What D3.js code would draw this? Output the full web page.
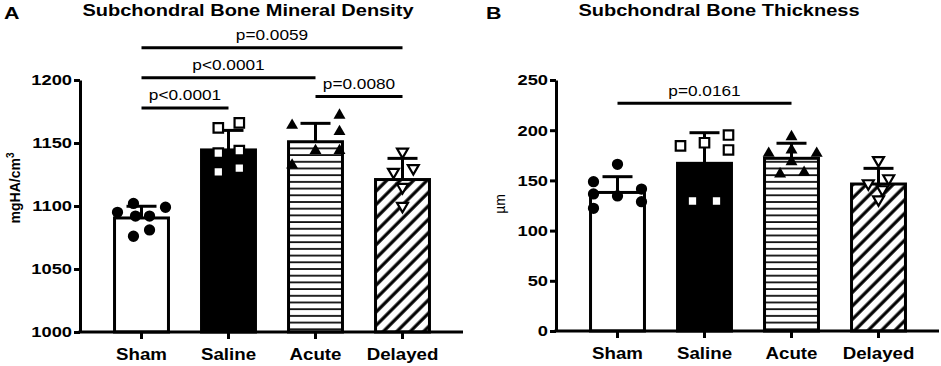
<!DOCTYPE html>
<html lang="en">

<body style="margin:0">
    <script type='text/javascript' src='https://d3js.org/d3.v7.min.js'></script>
    <script>

        // Groups
        const groups = ["Sham", "Saline", "Acute", "Delayed"];

        // Panel A - subchondral bone mineral density (mgHA/cm3)
        const bmdMean = [1090.5, 1144.5, 1151, 1121];
        const bmdSD = [9.3, 15.5, 14.6, 16.8];
        const bmdPoints = [
            [1095, 1102, 1092, 1092, 1099, 1076, 1081],
            [1162, 1166, 1142, 1144, 1127, 1130],
            [1164, 1172, 1159, 1144, 1144, 1132.5],
            [1143, 1127, 1130, 1115, 1100]
        ];
        const bmdTicks = [1000, 1050, 1100, 1150, 1200];
        const bmdCmpFrom = [0, 0, 2, 0];
        const bmdCmpTo = [1, 2, 3, 3];
        const bmdCmpLabel = ["p<0.0001", "p<0.0001", "p=0.0080", "p=0.0059"];

        // Panel B - subchondral bone thickness (um)
        const thkMean = [138, 167, 172, 146.4];
        const thkSD = [15.7, 30.5, 15, 15.6];
        const thkPoints = [
            [166, 148.7, 136.5, 122.2, 134.5, 141.4, 128.8],
            [184.3, 187.5, 195.2, 180.3, 129.5, 129.5],
            [193.5, 180.3, 177, 177, 168.6, 156.4, 158],
            [170, 147, 152, 141, 131]
        ];
        const thkTicks = [0, 50, 100, 150, 200, 250];
        const thkCmpFrom = [0];
        const thkCmpTo = [2];
        const thkCmpLabel = ["p=0.0161"];

        // layout: horizontal scatter slots (in marker widths) and bracket heights (data units)
        const bmdSlots = [[-2, -0.67, -0.5, 0.67, 2, -0.67, 0.67], [-0.85, 0.9, -0.85, 0.9, -0.85, 0.9],
        [-1.95, 2, 2, 0, 2, -1.95], [0, -0.75, 0.9, 0, 0]];
        const thkSlots = [[0, -2, -2, -2, 0, 2, 2], [-2, 0, 2, 2, -1, 1],
        [0, 0, -1.9, 2.1, 0, -0.95, 1.05], [0, -0.85, 0.85, 0.33, 0]];
        const bmdCmpLevel = [1177.8, 1201.8, 1187, 1225.6];
        const thkCmpLevel = [226.8];

        const FONT = "Arial, 'Liberation Sans', Helvetica, sans-serif";
        const SX = 1.18; // glyphs in the figure are a bit wide
        const unit = 12;

        const svg = d3.select("body").append("svg")
            .attr("width", 941).attr("height", 366)
            .style("background", "white");

        const defs = svg.append("defs");
        // horizontal stripes (Acute)
        const hp = defs.append("pattern").attr("id", "hstripe")
            .attr("patternUnits", "userSpaceOnUse").attr("width", 10).attr("height", 6.7);
        hp.append("rect").attr("width", 10).attr("height", 6.7).attr("fill", "white");
        hp.append("line").attr("x1", 0).attr("x2", 10).attr("y1", 1).attr("y2", 1)
            .attr("stroke", "black").attr("stroke-width", 1.7);
        // diagonal hatch (Delayed)
        const dp = defs.append("pattern").attr("id", "hatch")
            .attr("patternUnits", "userSpaceOnUse").attr("width", 9.5).attr("height", 9.5)
            .attr("patternTransform", "rotate(45)");
        dp.append("rect").attr("width", 9.5).attr("height", 9.5).attr("fill", "white");
        dp.append("line").attr("x1", 2).attr("x2", 2).attr("y1", 0).attr("y2", 9.5)
            .attr("stroke", "black").attr("stroke-width", 3.2);

        const fills = ["white", "black", "url(#hstripe)", "url(#hatch)"];

        function txt(g, x, y, s, size, weight, anchor, sx) {
            return g.append("text")
                .attr("transform", `translate(${x},${y}) scale(${sx || SX},1)`)
                .attr("text-anchor", anchor || "middle")
                .attr("font-family", FONT)
                .attr("font-size", size)
                .attr("font-weight", weight)
                .text(s);
        }

        function panel(o) {
            const g = svg.append("g");
            const y = d3.scaleLinear().domain(o.domain).range([o.y0, 80]);
            const x = d3.scaleBand().domain(groups).range([o.x0 + 18, o.x0 + 366])
                .paddingInner(0.38).paddingOuter(0.19);

            // bars
            g.selectAll(".bar").data(groups).enter().append("rect")
                .attr("x", d => x(d))
                .attr("width", x.bandwidth())
                .attr("y", (d, i) => y(o.mean[i]))
                .attr("height", (d, i) => y(o.domain[0]) - y(o.mean[i]))
                .attr("fill", (d, i) => fills[i])
                .attr("stroke", "black")
                .attr("stroke-width", 3);

            // error bars (upper only)
            groups.forEach((d, i) => {
                const cx = x(d) + x.bandwidth() / 2;
                g.append("line").attr("x1", cx).attr("x2", cx)
                    .attr("y1", y(o.mean[i])).attr("y2", y(o.mean[i] + o.sd[i]))
                    .attr("stroke", "black").attr("stroke-width", 3);
                g.append("line").attr("x1", cx - 15).attr("x2", cx + 15)
                    .attr("y1", y(o.mean[i] + o.sd[i])).attr("y2", y(o.mean[i] + o.sd[i]))
                    .attr("stroke", "black").attr("stroke-width", 3);
            });

            // points
            const shapes = [
                d3.symbol().type(d3.symbolCircle).size(100),
                d3.symbol().type(d3.symbolSquare).size(90),
                d3.symbol().type(d3.symbolTriangle).size(62),
                d3.symbol().type(d3.symbolTriangle).size(52)
            ];
            groups.forEach((d, i) => {
                const cx = x(d) + x.bandwidth() / 2;
                g.selectAll(".pt" + i).data(o.points[i]).enter().append("path")
                    .attr("d", shapes[i])
                    .attr("transform", (v, j) => `translate(${cx + o.slots[i][j] * unit},${y(v)})` + (i === 3 ? " rotate(180)" : ""))
                    .attr("fill", i === 1 || i === 3 ? "white" : "black")
                    .attr("stroke", "black")
                    .attr("stroke-width", i === 1 || i === 3 ? 2.2 : 0);
            });

            // y axis
            const ya = g.append("g").attr("transform", `translate(${o.x0},0)`)
                .call(d3.axisLeft(y).tickValues(o.ticks).tickSize(6).tickSizeOuter(0).tickPadding(2).tickFormat(d3.format("d")));
            ya.select(".domain").attr("stroke-width", 3);
            ya.selectAll(".tick line").attr("stroke-width", 3);
            ya.selectAll(".tick text")
                .attr("font-family", FONT).attr("font-size", 15.5).attr("font-weight", "bold")
                .attr("fill", "black")
                .attr("transform", `scale(${SX},1)`).attr("x", -8 / SX);

            // x axis
            g.append("line").attr("x1", o.x0 - 1.5).attr("x2", o.x0 + 383)
                .attr("y1", o.y0).attr("y2", o.y0)
                .attr("stroke", "black").attr("stroke-width", 3);
            const xa = g.append("g").attr("transform", `translate(0,${o.y0})`)
                .call(d3.axisBottom(x).tickSize(7).tickSizeOuter(0));
            xa.select(".domain").remove();
            xa.selectAll(".tick line").attr("stroke-width", 3);
            xa.selectAll(".tick text").remove();
            groups.forEach(d => {
                txt(g, x(d) + x.bandwidth() / 2, o.y0 + 28, d, 17, "bold", "middle", 1.1);
            });

            // comparisons
            o.cmpFrom.forEach((f, k) => {
                const x1 = x(groups[f]) + x.bandwidth() / 2;
                const x2 = x(groups[o.cmpTo[k]]) + x.bandwidth() / 2;
                const ly = y(o.cmpLevel[k]);
                g.append("line").attr("x1", x1).attr("x2", x2).attr("y1", ly).attr("y2", ly)
                    .attr("stroke", "black").attr("stroke-width", 3);
                txt(g, (x1 + x2) / 2, ly - 7.5, o.cmpLabel[k], 15, "normal", "middle", 1.15);
            });

            // titles
            txt(g, o.titleX, 16, o.title, 16, "bold", "middle", 1.25);
            txt(g, o.letterX, 19, o.letter, 16.5, "bold", "start", 1.3);
            return g;
        }

        panel({
            x0: 80, y0: 332, domain: [1000, 1200], ticks: bmdTicks,
            mean: bmdMean, sd: bmdSD, points: bmdPoints, slots: bmdSlots,
            cmpFrom: bmdCmpFrom, cmpTo: bmdCmpTo, cmpLabel: bmdCmpLabel, cmpLevel: bmdCmpLevel,
            title: "Subchondral Bone Mineral Density", titleX: 248, letter: "A", letterX: 4
        });
        panel({
            x0: 556, y0: 331, domain: [0, 250], ticks: thkTicks,
            mean: thkMean, sd: thkSD, points: thkPoints, slots: thkSlots,
            cmpFrom: thkCmpFrom, cmpTo: thkCmpTo, cmpLabel: thkCmpLabel, cmpLevel: thkCmpLevel,
            title: "Subchondral Bone Thickness", titleX: 719, letter: "B", letterX: 486
        });

        // y axis titles
        const yl = svg.append("text")
            .attr("transform", "translate(20,188) rotate(-90)")
            .attr("text-anchor", "middle")
            .attr("font-family", FONT).attr("font-size", 14).attr("font-weight", "bold");
        yl.append("tspan").text("mgHA/cm");
        yl.append("tspan").attr("dy", -6).attr("font-size", 10).text("3");

        svg.append("text")
            .attr("transform", "translate(505,204) rotate(-90)")
            .attr("text-anchor", "middle")
            .attr("font-family", FONT).attr("font-size", 14)
            .text("µm");

    </script>

</body>

</html>
